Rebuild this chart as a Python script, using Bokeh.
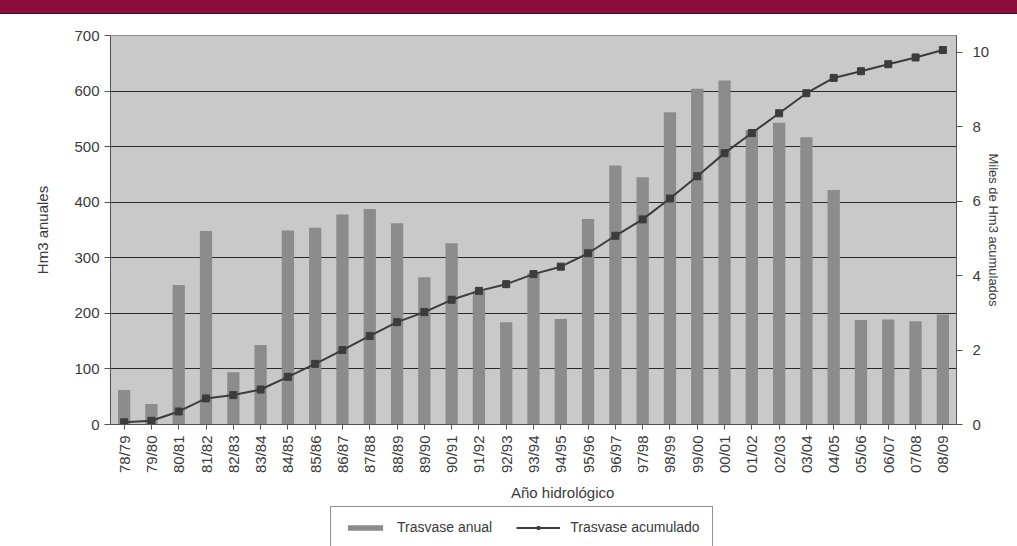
import math
from bokeh.plotting import figure
from bokeh.layouts import column
from bokeh.models import (FactorRange, Range1d, LinearAxis, FixedTicker, Legend, LegendItem, Div)
from bokeh.embed import file_html
from bokeh.resources import INLINE

# ---- data ----
years = ["78/79", "79/80", "80/81", "81/82", "82/83", "83/84", "84/85", "85/86", "86/87", "87/88",
         "88/89", "89/90", "90/91", "91/92", "92/93", "93/94", "94/95", "95/96", "96/97", "97/98",
         "98/99", "99/00", "00/01", "01/02", "02/03", "03/04", "04/05", "05/06", "06/07", "07/08",
         "08/09"]
anual = [62, 37, 251, 348, 94, 143, 349, 354, 378, 388,
         362, 265, 326, 240, 184, 272, 190, 370, 466, 445,
         562, 604, 619, 530, 543, 517, 422, 188, 189, 186,
         198]
acumulado = [0.06, 0.10, 0.35, 0.70, 0.79, 0.94, 1.28, 1.63, 2.00, 2.38,
             2.75, 3.02, 3.35, 3.59, 3.77, 4.04, 4.24, 4.60, 5.07, 5.51,
             6.07, 6.67, 7.29, 7.83, 8.36, 8.90, 9.31, 9.49, 9.68, 9.86,
             10.06]
left_ticks = [0, 100, 200, 300, 400, 500, 600, 700]
right_ticks = [0, 2, 4, 6, 8, 10]

FONT = "Liberation Sans"
TXT = "#3a3a3a"
BAR = "#8c8c8c"
LINE = "#3c3c3c"

# maroon header band
header = Div(text="", width=1017, height=14, margin=0,
             styles={"background-color": "#8b0f3a", "border-bottom": "1px solid #3a1020",
                     "box-sizing": "border-box"})

# main chart
p = figure(width=1017, height=490, x_range=FactorRange(*years), y_range=Range1d(0, 700),
           output_backend="svg", toolbar_location=None, margin=0,
           min_border_left=110, min_border_right=61, min_border_top=21, min_border_bottom=78)
p.extra_y_ranges = {"acum": Range1d(0, 10.45)}

p.background_fill_color = "#c9c9c9"
p.border_fill_color = "white"
p.outline_line_color = "#8a8a8a"

p.vbar(x=years, top=anual, width=0.45, color=BAR, line_color=None)
p.line(x=years, y=acumulado, y_range_name="acum", line_color=LINE, line_width=2)
p.scatter(x=years, y=acumulado, y_range_name="acum", marker="square", size=7,
          fill_color=LINE, line_color=LINE)

p.xgrid.visible = False
p.ygrid.ticker = FixedTicker(ticks=left_ticks[1:-1])
p.ygrid.grid_line_color = "#2a2a2a"
p.ygrid.grid_line_width = 1

ya = p.yaxis[0]
ya.ticker = FixedTicker(ticks=left_ticks)
ya.axis_label = "Hm3 anuales"

ra = LinearAxis(y_range_name="acum", ticker=FixedTicker(ticks=right_ticks),
                axis_label="Miles de Hm3 acumulados")
p.add_layout(ra, "right")

xa = p.xaxis[0]
xa.axis_label = "\u00a0" * 14 + "Año hidrológico"
xa.major_label_orientation = math.pi / 2

for ax in [ya, ra, xa]:
    ax.axis_line_color = "#555555"
    ax.major_tick_line_color = "#555555"
    ax.minor_tick_line_color = None
    ax.major_tick_in = 0
    ax.major_tick_out = 6
    ax.major_label_text_font = FONT
    ax.major_label_text_color = TXT
    ax.major_label_text_font_size = "15px"
    ax.axis_label_text_font = FONT
    ax.axis_label_text_color = TXT
    ax.axis_label_text_font_style = "normal"
    ax.axis_label_text_font_size = "15px"

ya.major_label_standoff = 5
ya.axis_label_standoff = 20
ra.major_label_standoff = 10
ra.axis_label_standoff = -6
ra.axis_label_text_font_size = "13px"
xa.major_tick_out = 5
xa.major_label_standoff = 6
xa.axis_label_standoff = 8

# legend strip below the chart: a small figure whose view range shows none of the data,
# so that only the legend (with its glyph swatches) is visible
q = figure(width=1017, height=42, x_range=FactorRange(*years), y_range=Range1d(1000, 1001),
           output_backend="svg", toolbar_location=None, margin=0,
           x_axis_location=None, y_axis_location=None,
           min_border_left=0, min_border_right=0, min_border_top=0, min_border_bottom=0)
q.grid.visible = False
q.outline_line_color = None
q.background_fill_color = "white"
q.border_fill_color = "white"
lb = q.vbar(x=years, top=anual, width=0.45, color=BAR, line_color=None)
ll = q.line(x=years, y=acumulado, line_color=LINE, line_width=2)
lm = q.scatter(x=years, y=acumulado, marker="square", size=6, fill_color=LINE, line_color=LINE)

legend = Legend(items=[LegendItem(label="Trasvase anual", renderers=[lb]),
                       LegendItem(label="Trasvase acumulado", renderers=[ll, lm])],
                orientation="horizontal", location=(220, -2),
                label_text_font=FONT, label_text_font_size="14px", label_text_color=TXT,
                glyph_width=44, glyph_height=7, label_standoff=10, spacing=24, padding=12,
                margin=0, border_line_color="#222222", border_line_width=1,
                background_fill_color="white", background_fill_alpha=1)
q.add_layout(legend, "center")

layout = column(header, p, q, spacing=0)
open("out.html", "w").write(file_html(layout, INLINE))
